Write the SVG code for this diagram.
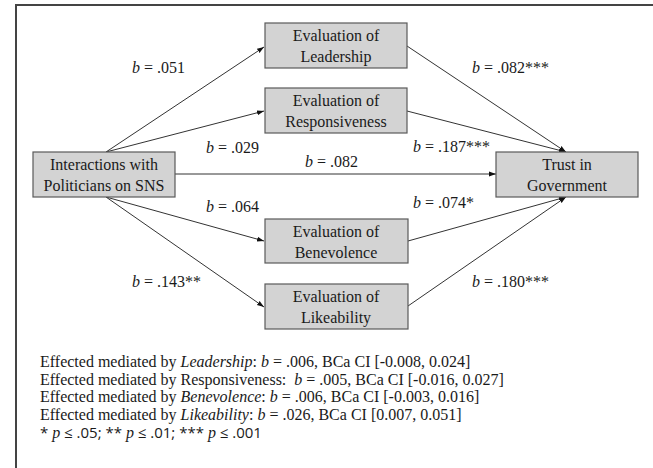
<svg xmlns="http://www.w3.org/2000/svg" width="653" height="468" viewBox="0 0 653 468">
<style>
text{font-family:"Liberation Serif","Times New Roman",serif;font-size:16px;fill:#1a1a1a}
.c{text-anchor:middle}
.i{font-style:italic}
.box{fill:#d3d3d3;stroke:#5a5a5a;stroke-width:1.2}
.ln{stroke:#333;stroke-width:1;fill:none;marker-end:url(#ah)}
.fr{stroke:#444;stroke-width:2;fill:none}
.ft{font-family:"Open Sans","Noto Sans",sans-serif;font-size:15px}
.fp{font-family:"Liberation Serif",serif;font-size:16px;font-style:italic}
</style>
<defs>
<marker id="ah" viewBox="0 0 10 10" refX="10" refY="5" markerWidth="7" markerHeight="7" markerUnits="userSpaceOnUse" orient="auto">
<path d="M0,1.5 L10,5 L0,8.5 Z" fill="#111"/>
</marker>
</defs>
<rect width="653" height="468" fill="#fff"/>
<path class="fr" d="M16,468 V5 H653"/>
<g id="connectors">
<line class="ln" x1="106" y1="152" x2="264" y2="47"/>
<line class="ln" x1="106" y1="152" x2="264" y2="111"/>
<line class="ln" x1="175" y1="174" x2="496" y2="174"/>
<line class="ln" x1="106" y1="197" x2="264" y2="241"/>
<line class="ln" x1="106" y1="197" x2="264" y2="307"/>
<line class="ln" x1="407" y1="46" x2="566" y2="152"/>
<line class="ln" x1="407" y1="111" x2="566" y2="152"/>
<line class="ln" x1="408" y1="241" x2="566" y2="197"/>
<line class="ln" x1="408" y1="306" x2="566" y2="197"/>
</g>
<g id="labels">
<text x="132" y="73"><tspan class="i">b</tspan> = .051</text>
<text x="206" y="153"><tspan class="i">b</tspan> = .029</text>
<text x="305" y="167"><tspan class="i">b</tspan> = .082</text>
<text x="206" y="212"><tspan class="i">b</tspan> = .064</text>
<text x="132" y="287"><tspan class="i">b</tspan> = .143**</text>
<text x="472" y="73"><tspan class="i">b</tspan> = .082***</text>
<text x="413" y="152"><tspan class="i">b</tspan> = .187***</text>
<text x="413" y="208"><tspan class="i">b</tspan> = .074*</text>
<text x="472" y="287"><tspan class="i">b</tspan> = .180***</text>
</g>
<g id="n-interactions">
<rect class="box" x="33" y="152" width="142" height="45"/>
<text class="c" x="104" y="170">Interactions with</text>
<text class="c" x="104" y="191">Politicians on SNS</text>
</g>
<g id="n-leadership">
<rect class="box" x="265" y="23" width="142" height="45"/>
<text class="c" x="336" y="41">Evaluation of</text>
<text class="c" x="336" y="62">Leadership</text>
</g>
<g id="n-responsiveness">
<rect class="box" x="265" y="88" width="142" height="45"/>
<text class="c" x="336" y="106">Evaluation of</text>
<text class="c" x="336" y="127">Responsiveness</text>
</g>
<g id="n-benevolence">
<rect class="box" x="265" y="219" width="143" height="44"/>
<text class="c" x="336" y="237">Evaluation of</text>
<text class="c" x="336" y="258">Benevolence</text>
</g>
<g id="n-likeability">
<rect class="box" x="265" y="284" width="143" height="45"/>
<text class="c" x="336" y="302">Evaluation of</text>
<text class="c" x="336" y="323">Likeability</text>
</g>
<g id="n-trust">
<rect class="box" x="496" y="152" width="142" height="45"/>
<text class="c" x="567" y="170">Trust in</text>
<text class="c" x="567" y="191">Government</text>
</g>
<g id="notes">
<text x="40" y="367">Effected mediated by <tspan class="i">Leadership</tspan>: <tspan class="i">b</tspan> = .006, BCa CI [-0.008, 0.024]</text>
<text x="40" y="385" xml:space="preserve">Effected mediated by Responsiveness:  <tspan class="i">b</tspan> = .005, BCa CI [-0.016, 0.027]</text>
<text x="40" y="402">Effected mediated by <tspan class="i">Benevolence</tspan>: <tspan class="i">b</tspan> = .006, BCa CI [-0.003, 0.016]</text>
<text x="40" y="420">Effected mediated by <tspan class="i">Likeability</tspan>: <tspan class="i">b</tspan> = .026, BCa CI [0.007, 0.051]</text>
<text class="ft" x="40" y="438" xml:space="preserve">* <tspan class="fp">p</tspan> ≤ .05; ** <tspan class="fp">p</tspan> ≤ .01; *** <tspan class="fp">p</tspan> ≤ .001</text>
</g>
</svg>
